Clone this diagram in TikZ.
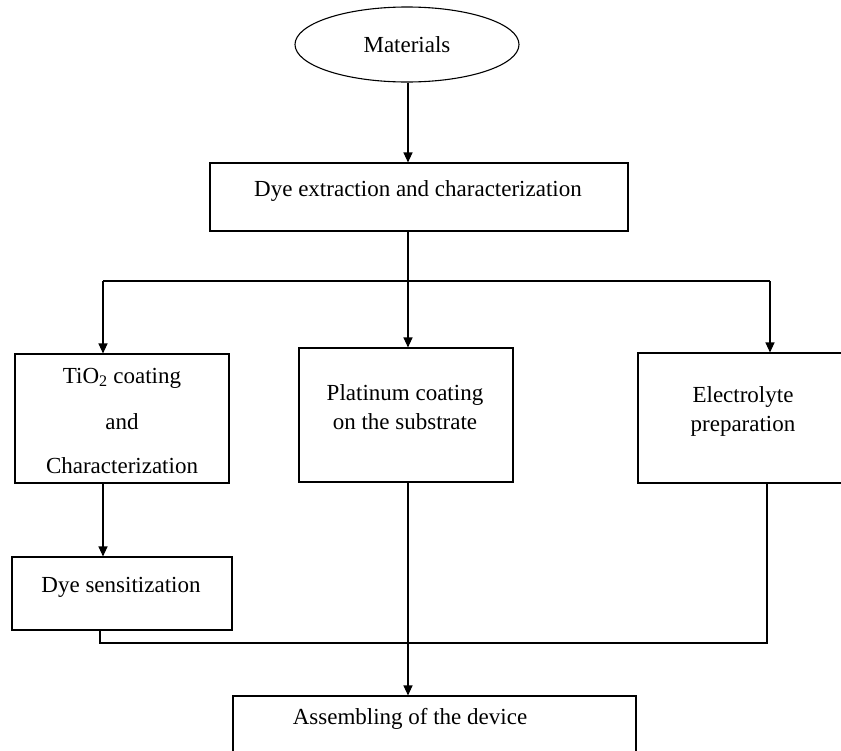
\documentclass[tikz,border=0pt]{standalone}
\usepackage{fontspec}
\setmainfont{Liberation Serif}
\usetikzlibrary{arrows.meta,shapes.geometric,calc}
\begin{document}
\begin{tikzpicture}[x=1pt,y=-1pt,
  line width=1.1pt,
  box/.style={draw, rectangle, inner sep=0pt},
  lbl/.style={align=center, font=\fontsize{23}{29}\selectfont, inner sep=0pt},
  arr/.style={-{Triangle[length=10pt,width=9pt]}}]
\useasboundingbox (0,0) rectangle (841,750);
\clip (0,0) rectangle (841,750);
% nodes
\node[draw, ellipse, minimum width=224pt, minimum height=75pt, inner sep=0pt, font=\fontsize{23}{29}\selectfont] (m) at (407,44.5) {Materials};
\node[box, minimum width=418pt, minimum height=68pt] (d) at (419,197) {};
\node[lbl] (dt) at (418,191) {Dye extraction and characterization};
\node[box, minimum width=214pt, minimum height=129pt] (t) at (122,418.5) {};
\node[lbl] (tt1) at (122,378) {TiO\textsubscript{2} coating};
\node[lbl] (tt2) at (122,422) {and};
\node[lbl] (tt3) at (122,466) {Characterization};
\node[box, minimum width=214pt, minimum height=134pt] (p) at (406,415) {};
\node[lbl] (pt) at (405,407) {Platinum coating\\on the substrate};
\node[box, minimum width=210pt, minimum height=130pt] (e) at (743,418) {};
\node[lbl] (et) at (743,411) {Electrolyte\\preparation};
\node[box, minimum width=220pt, minimum height=73pt] (s) at (122,593.5) {};
\node[lbl] (st) at (121,587) {Dye sensitization};
\node[box, minimum width=403pt, minimum height=70pt] (a) at (434.5,731) {};
\node[lbl] (at) at (410,719) {Assembling of the device};
% junctions
\coordinate (j) at (408,281);
\coordinate (jl) at (103,281);
\coordinate (jr) at (770,281);
\coordinate (bl) at (100,643);
\coordinate (br) at (767,643);
% connectors
\draw[arr] (m.south -| j) -- (j |- d.north);
\draw (j |- d.south) -- (j);
\draw (jl) -- (jr);
\draw[arr] (jl) -- (jl |- t.north);
\draw[arr] (j) -- (j |- p.north);
\draw[arr] (jr) -- (jr |- e.north);
\draw[arr] (jl |- t.south) -- (jl |- s.north);
\draw (bl |- s.south) -- (bl) -- (br) -- (br |- e.south);
\draw[arr] (j |- p.south) -- (j |- a.north);
\end{tikzpicture}
\end{document}
